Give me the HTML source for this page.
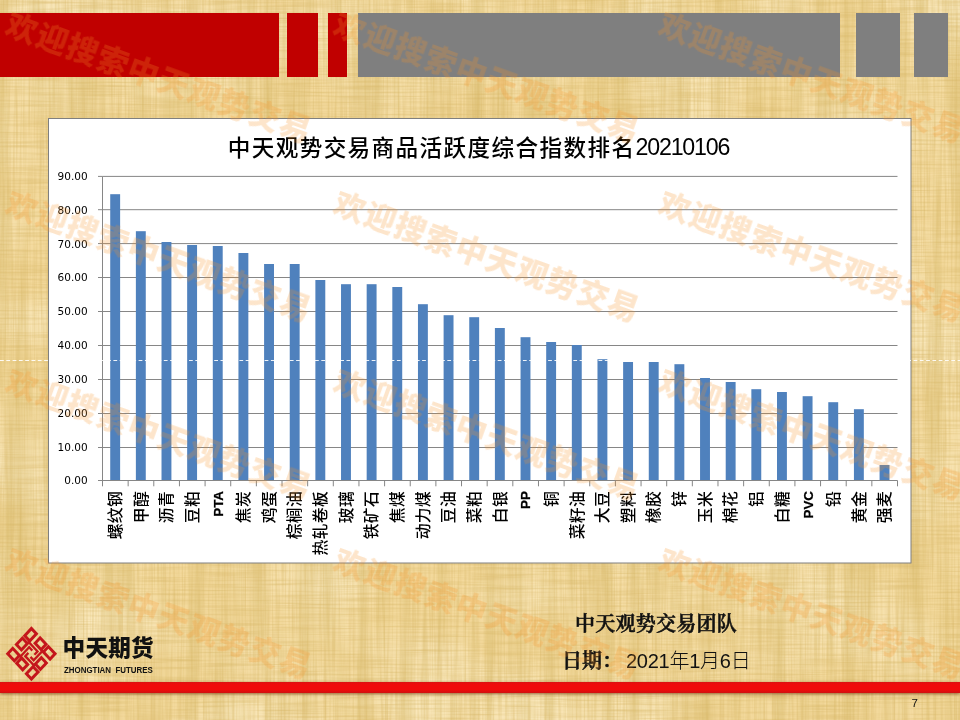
<!DOCTYPE html>
<html lang="zh-CN">
<head>
<meta charset="utf-8">
<title>中天观势交易商品活跃度综合指数排名20210106</title>
<style>
html,body{margin:0;padding:0}
body{width:960px;height:720px;position:relative;overflow:hidden;background:#f3d99c;font-family:"Liberation Sans","Noto Sans CJK SC",sans-serif}
.abs{position:absolute}
.tex{position:absolute;left:0;top:0;width:960px;height:720px}
.red{position:absolute;top:13px;height:64px;background:#c00000}
.gray{position:absolute;top:13px;height:64px;background:#7f7f7f}
.chart{position:absolute;left:0;top:0}
.yl{font-family:"DejaVu Sans","Liberation Sans",sans-serif;font-size:10.5px;fill:#000}
.cl{font-family:"Liberation Sans","Noto Sans CJK SC",sans-serif;font-size:15.8px;letter-spacing:.3px;font-weight:500;fill:#000}
.cle{font-family:"Liberation Sans",sans-serif;font-size:13.4px;font-weight:bold;fill:#000;stroke:#000;stroke-width:.25px}
.ttl{font-family:"Liberation Sans","Noto Sans CJK SC",sans-serif;font-size:22.6px;letter-spacing:1.4px;font-weight:500;fill:#000}
.dg{letter-spacing:-1.2px;font-size:23.2px}
.stripe{position:absolute;left:0;top:682px;width:960px;height:11px;background:linear-gradient(#dc1212,#f00b0b 25%,#f00b0b 70%,#d01010);box-shadow:0 1px 3px rgba(110,50,10,.7)}
.wm{position:absolute;white-space:nowrap;font-family:"Liberation Sans","Noto Sans CJK SC",sans-serif;font-weight:900;font-size:31px;line-height:32px;height:32px;color:rgba(246,146,36,.24);transform-origin:15.5px 16px;transform:rotate(19.9deg);letter-spacing:1.3px;filter:blur(.6px)}
.dash{position:absolute;left:0;top:360px;width:960px;height:0;border-top:1px dashed rgba(255,255,255,.85)}
.brand{position:absolute;left:62.6px;top:634.4px;font-family:"Liberation Sans","Noto Sans CJK SC",sans-serif;font-weight:900;font-size:22.6px;line-height:30px;color:#111;white-space:nowrap;letter-spacing:.2px}
.brand2{position:absolute;left:64px;top:663.6px;font-family:"Liberation Sans",sans-serif;font-weight:bold;font-size:9.6px;line-height:12px;color:#111;white-space:pre;transform-origin:0 0;transform:scaleX(.825)}
.team{position:absolute;left:575px;top:610.3px;letter-spacing:.25px;font-family:"Liberation Serif","Noto Serif CJK SC",serif;font-weight:600;-webkit-text-stroke:.55px #111;font-size:20px;line-height:28px;color:#111;white-space:nowrap}
.date{position:absolute;left:562px;top:646.5px;font-size:20px;line-height:28px;color:#111;white-space:nowrap}
.date b{font-family:"Liberation Serif","Noto Serif CJK SC",serif;font-weight:600;-webkit-text-stroke:.55px #111}
.date span{font-family:"Liberation Sans","Noto Sans CJK SC",sans-serif;font-weight:300;letter-spacing:-.25px;margin-left:4px}
.pn{position:absolute;left:911.5px;top:697px;font-size:11.5px;line-height:12px;color:#111}
</style>
</head>
<body>
<svg class="tex" width="960" height="720">
<defs>
<filter id="fh" x="0" y="0" width="100%" height="100%"><feTurbulence type="fractalNoise" baseFrequency="0.015 0.5" numOctaves="2" seed="3"/><feColorMatrix type="matrix" values="0 0 0 0 0.66  0 0 0 0 0.45  0 0 0 0 0.12  0.9 0 0 0 -0.35"/></filter>
<filter id="fv" x="0" y="0" width="100%" height="100%"><feTurbulence type="fractalNoise" baseFrequency="0.45 0.012" numOctaves="2" seed="8"/><feColorMatrix type="matrix" values="0 0 0 0 0.66  0 0 0 0 0.45  0 0 0 0 0.12  0.9 0 0 0 -0.35"/></filter>
<filter id="fl" x="0" y="0" width="100%" height="100%"><feTurbulence type="fractalNoise" baseFrequency="0.008 0.012" numOctaves="2" seed="5"/><feColorMatrix type="matrix" values="0 0 0 0 1  0 0 0 0 0.92  0 0 0 0 0.7  1.2 0 0 0 -0.45"/></filter>
<filter id="fb" x="0" y="0" width="100%" height="100%"><feTurbulence type="fractalNoise" baseFrequency="0.07 0.003" numOctaves="2" seed="11"/><feColorMatrix type="matrix" values="0 0 0 0 0.6  0 0 0 0 0.42  0 0 0 0 0.1  0.9 0 0 0 -0.36"/></filter>
</defs>
<rect width="960" height="720" fill="#f3d99c"/>
<rect width="960" height="720" filter="url(#fl)"/>
<rect width="960" height="720" filter="url(#fb)"/>
<rect width="960" height="720" filter="url(#fh)"/>
<rect width="960" height="720" filter="url(#fv)"/>
</svg>
<div class="red" style="left:0;width:279px"></div>
<div class="red" style="left:287px;width:31px"></div>
<div class="red" style="left:328px;width:19px"></div>
<div class="gray" style="left:358px;width:482px"></div>
<div class="gray" style="left:856px;width:44px"></div>
<div class="gray" style="left:914px;width:34px"></div>
<svg class="chart" width="960" height="720" viewBox="0 0 960 720">
<rect x="48.5" y="118.5" width="862.5" height="444.5" fill="#fff" stroke="#7f7f7f" stroke-width="1"/>
<line x1="102.5" x2="897.5" y1="447.50" y2="447.50" stroke="#868686" stroke-width="1"/>
<line x1="102.5" x2="897.5" y1="413.50" y2="413.50" stroke="#868686" stroke-width="1"/>
<line x1="102.5" x2="897.5" y1="379.50" y2="379.50" stroke="#868686" stroke-width="1"/>
<line x1="102.5" x2="897.5" y1="345.50" y2="345.50" stroke="#868686" stroke-width="1"/>
<line x1="102.5" x2="897.5" y1="311.50" y2="311.50" stroke="#868686" stroke-width="1"/>
<line x1="102.5" x2="897.5" y1="277.50" y2="277.50" stroke="#868686" stroke-width="1"/>
<line x1="102.5" x2="897.5" y1="243.60" y2="243.60" stroke="#868686" stroke-width="1"/>
<line x1="102.5" x2="897.5" y1="209.70" y2="209.70" stroke="#868686" stroke-width="1"/>
<line x1="102.5" x2="897.5" y1="176.40" y2="176.40" stroke="#868686" stroke-width="1"/>
<rect x="110.22" y="194.2" width="9.9" height="285.8" fill="#4f81bd"/>
<rect x="135.87" y="231.2" width="9.9" height="248.8" fill="#4f81bd"/>
<rect x="161.51" y="242.0" width="9.9" height="238.0" fill="#4f81bd"/>
<rect x="187.16" y="245.0" width="9.9" height="235.0" fill="#4f81bd"/>
<rect x="212.80" y="246.0" width="9.9" height="234.0" fill="#4f81bd"/>
<rect x="238.45" y="253.0" width="9.9" height="227.0" fill="#4f81bd"/>
<rect x="264.09" y="264.0" width="9.9" height="216.0" fill="#4f81bd"/>
<rect x="289.74" y="264.0" width="9.9" height="216.0" fill="#4f81bd"/>
<rect x="315.38" y="280.0" width="9.9" height="200.0" fill="#4f81bd"/>
<rect x="341.03" y="284.2" width="9.9" height="195.8" fill="#4f81bd"/>
<rect x="366.67" y="284.2" width="9.9" height="195.8" fill="#4f81bd"/>
<rect x="392.32" y="287.0" width="9.9" height="193.0" fill="#4f81bd"/>
<rect x="417.96" y="304.2" width="9.9" height="175.8" fill="#4f81bd"/>
<rect x="443.61" y="315.2" width="9.9" height="164.8" fill="#4f81bd"/>
<rect x="469.25" y="317.2" width="9.9" height="162.8" fill="#4f81bd"/>
<rect x="494.90" y="328.0" width="9.9" height="152.0" fill="#4f81bd"/>
<rect x="520.55" y="337.2" width="9.9" height="142.8" fill="#4f81bd"/>
<rect x="546.19" y="342.0" width="9.9" height="138.0" fill="#4f81bd"/>
<rect x="571.84" y="345.0" width="9.9" height="135.0" fill="#4f81bd"/>
<rect x="597.48" y="359.2" width="9.9" height="120.8" fill="#4f81bd"/>
<rect x="623.13" y="362.0" width="9.9" height="118.0" fill="#4f81bd"/>
<rect x="648.77" y="362.0" width="9.9" height="118.0" fill="#4f81bd"/>
<rect x="674.42" y="364.2" width="9.9" height="115.8" fill="#4f81bd"/>
<rect x="700.06" y="378.0" width="9.9" height="102.0" fill="#4f81bd"/>
<rect x="725.71" y="382.0" width="9.9" height="98.0" fill="#4f81bd"/>
<rect x="751.35" y="389.2" width="9.9" height="90.8" fill="#4f81bd"/>
<rect x="777.00" y="392.0" width="9.9" height="88.0" fill="#4f81bd"/>
<rect x="802.64" y="396.2" width="9.9" height="83.8" fill="#4f81bd"/>
<rect x="828.29" y="402.2" width="9.9" height="77.8" fill="#4f81bd"/>
<rect x="853.93" y="409.2" width="9.9" height="70.8" fill="#4f81bd"/>
<rect x="879.58" y="465.0" width="9.9" height="15.0" fill="#4f81bd"/>
<line x1="102.5" x2="102.5" y1="176.4" y2="486.3" stroke="#868686" stroke-width="1"/>
<line x1="98.0" x2="897.5" y1="480.5" y2="480.5" stroke="#868686" stroke-width="1"/>
<line x1="98.0" x2="102.5" y1="447.50" y2="447.50" stroke="#868686" stroke-width="1"/>
<line x1="98.0" x2="102.5" y1="413.50" y2="413.50" stroke="#868686" stroke-width="1"/>
<line x1="98.0" x2="102.5" y1="379.50" y2="379.50" stroke="#868686" stroke-width="1"/>
<line x1="98.0" x2="102.5" y1="345.50" y2="345.50" stroke="#868686" stroke-width="1"/>
<line x1="98.0" x2="102.5" y1="311.50" y2="311.50" stroke="#868686" stroke-width="1"/>
<line x1="98.0" x2="102.5" y1="277.50" y2="277.50" stroke="#868686" stroke-width="1"/>
<line x1="98.0" x2="102.5" y1="243.60" y2="243.60" stroke="#868686" stroke-width="1"/>
<line x1="98.0" x2="102.5" y1="209.70" y2="209.70" stroke="#868686" stroke-width="1"/>
<line x1="98.0" x2="102.5" y1="176.40" y2="176.40" stroke="#868686" stroke-width="1"/>
<line x1="128.15" x2="128.15" y1="480.5" y2="486.3" stroke="#868686" stroke-width="1"/>
<line x1="153.79" x2="153.79" y1="480.5" y2="486.3" stroke="#868686" stroke-width="1"/>
<line x1="179.44" x2="179.44" y1="480.5" y2="486.3" stroke="#868686" stroke-width="1"/>
<line x1="205.08" x2="205.08" y1="480.5" y2="486.3" stroke="#868686" stroke-width="1"/>
<line x1="230.73" x2="230.73" y1="480.5" y2="486.3" stroke="#868686" stroke-width="1"/>
<line x1="256.37" x2="256.37" y1="480.5" y2="486.3" stroke="#868686" stroke-width="1"/>
<line x1="282.02" x2="282.02" y1="480.5" y2="486.3" stroke="#868686" stroke-width="1"/>
<line x1="307.66" x2="307.66" y1="480.5" y2="486.3" stroke="#868686" stroke-width="1"/>
<line x1="333.31" x2="333.31" y1="480.5" y2="486.3" stroke="#868686" stroke-width="1"/>
<line x1="358.95" x2="358.95" y1="480.5" y2="486.3" stroke="#868686" stroke-width="1"/>
<line x1="384.60" x2="384.60" y1="480.5" y2="486.3" stroke="#868686" stroke-width="1"/>
<line x1="410.24" x2="410.24" y1="480.5" y2="486.3" stroke="#868686" stroke-width="1"/>
<line x1="435.89" x2="435.89" y1="480.5" y2="486.3" stroke="#868686" stroke-width="1"/>
<line x1="461.53" x2="461.53" y1="480.5" y2="486.3" stroke="#868686" stroke-width="1"/>
<line x1="487.18" x2="487.18" y1="480.5" y2="486.3" stroke="#868686" stroke-width="1"/>
<line x1="512.82" x2="512.82" y1="480.5" y2="486.3" stroke="#868686" stroke-width="1"/>
<line x1="538.47" x2="538.47" y1="480.5" y2="486.3" stroke="#868686" stroke-width="1"/>
<line x1="564.11" x2="564.11" y1="480.5" y2="486.3" stroke="#868686" stroke-width="1"/>
<line x1="589.76" x2="589.76" y1="480.5" y2="486.3" stroke="#868686" stroke-width="1"/>
<line x1="615.40" x2="615.40" y1="480.5" y2="486.3" stroke="#868686" stroke-width="1"/>
<line x1="641.05" x2="641.05" y1="480.5" y2="486.3" stroke="#868686" stroke-width="1"/>
<line x1="666.69" x2="666.69" y1="480.5" y2="486.3" stroke="#868686" stroke-width="1"/>
<line x1="692.34" x2="692.34" y1="480.5" y2="486.3" stroke="#868686" stroke-width="1"/>
<line x1="717.98" x2="717.98" y1="480.5" y2="486.3" stroke="#868686" stroke-width="1"/>
<line x1="743.63" x2="743.63" y1="480.5" y2="486.3" stroke="#868686" stroke-width="1"/>
<line x1="769.27" x2="769.27" y1="480.5" y2="486.3" stroke="#868686" stroke-width="1"/>
<line x1="794.92" x2="794.92" y1="480.5" y2="486.3" stroke="#868686" stroke-width="1"/>
<line x1="820.56" x2="820.56" y1="480.5" y2="486.3" stroke="#868686" stroke-width="1"/>
<line x1="846.21" x2="846.21" y1="480.5" y2="486.3" stroke="#868686" stroke-width="1"/>
<line x1="871.85" x2="871.85" y1="480.5" y2="486.3" stroke="#868686" stroke-width="1"/>
<line x1="897.50" x2="897.50" y1="480.5" y2="486.3" stroke="#868686" stroke-width="1"/>
<text class="yl" x="87.6" y="484.40" text-anchor="end">0.00</text>
<text class="yl" x="87.6" y="451.40" text-anchor="end">10.00</text>
<text class="yl" x="87.6" y="417.40" text-anchor="end">20.00</text>
<text class="yl" x="87.6" y="383.40" text-anchor="end">30.00</text>
<text class="yl" x="87.6" y="349.40" text-anchor="end">40.00</text>
<text class="yl" x="87.6" y="315.40" text-anchor="end">50.00</text>
<text class="yl" x="87.6" y="281.40" text-anchor="end">60.00</text>
<text class="yl" x="87.6" y="247.50" text-anchor="end">70.00</text>
<text class="yl" x="87.6" y="213.60" text-anchor="end">80.00</text>
<text class="yl" x="87.6" y="180.30" text-anchor="end">90.00</text>
<text class="cl" transform="translate(120.92 491) rotate(-90)" text-anchor="end">螺纹钢</text>
<text class="cl" transform="translate(146.57 491) rotate(-90)" text-anchor="end">甲醇</text>
<text class="cl" transform="translate(172.21 491) rotate(-90)" text-anchor="end">沥青</text>
<text class="cl" transform="translate(197.86 491) rotate(-90)" text-anchor="end">豆粕</text>
<text class="cle" transform="translate(222.70 491) rotate(-90)" text-anchor="end">PTA</text>
<text class="cl" transform="translate(249.15 491) rotate(-90)" text-anchor="end">焦炭</text>
<text class="cl" transform="translate(274.79 491) rotate(-90)" text-anchor="end">鸡蛋</text>
<text class="cl" transform="translate(300.44 491) rotate(-90)" text-anchor="end">棕榈油</text>
<text class="cl" transform="translate(326.08 491) rotate(-90)" text-anchor="end">热轧卷板</text>
<text class="cl" transform="translate(351.73 491) rotate(-90)" text-anchor="end">玻璃</text>
<text class="cl" transform="translate(377.37 491) rotate(-90)" text-anchor="end">铁矿石</text>
<text class="cl" transform="translate(403.02 491) rotate(-90)" text-anchor="end">焦煤</text>
<text class="cl" transform="translate(428.66 491) rotate(-90)" text-anchor="end">动力煤</text>
<text class="cl" transform="translate(454.31 491) rotate(-90)" text-anchor="end">豆油</text>
<text class="cl" transform="translate(479.95 491) rotate(-90)" text-anchor="end">菜粕</text>
<text class="cl" transform="translate(505.60 491) rotate(-90)" text-anchor="end">白银</text>
<text class="cle" transform="translate(530.45 491) rotate(-90)" text-anchor="end">PP</text>
<text class="cl" transform="translate(556.89 491) rotate(-90)" text-anchor="end">铜</text>
<text class="cl" transform="translate(582.54 491) rotate(-90)" text-anchor="end">菜籽油</text>
<text class="cl" transform="translate(608.18 491) rotate(-90)" text-anchor="end">大豆</text>
<text class="cl" transform="translate(633.83 491) rotate(-90)" text-anchor="end">塑料</text>
<text class="cl" transform="translate(659.47 491) rotate(-90)" text-anchor="end">橡胶</text>
<text class="cl" transform="translate(685.12 491) rotate(-90)" text-anchor="end">锌</text>
<text class="cl" transform="translate(710.76 491) rotate(-90)" text-anchor="end">玉米</text>
<text class="cl" transform="translate(736.41 491) rotate(-90)" text-anchor="end">棉花</text>
<text class="cl" transform="translate(762.05 491) rotate(-90)" text-anchor="end">铝</text>
<text class="cl" transform="translate(787.70 491) rotate(-90)" text-anchor="end">白糖</text>
<text class="cle" transform="translate(812.54 491) rotate(-90)" text-anchor="end">PVC</text>
<text class="cl" transform="translate(838.99 491) rotate(-90)" text-anchor="end">铅</text>
<text class="cl" transform="translate(864.63 491) rotate(-90)" text-anchor="end">黄金</text>
<text class="cl" transform="translate(890.28 491) rotate(-90)" text-anchor="end">强麦</text>
<text class="ttl" x="478.4" y="155.6" text-anchor="middle">中天观势交易商品活跃度综合指数排名<tspan class="dg" dy="-1.1">20210106</tspan></text>
</svg>
<div class="stripe"></div>
<svg class="abs" style="left:2px;top:622px" width="60" height="64" viewBox="0 0 60 64">
<g transform="translate(29.4 4.3) scale(.985 1.05) rotate(45)" fill="none" stroke="#c4161c" stroke-width="2.9">
<rect x="1.5" y="1.5" width="7.2" height="9.6"/>
<rect x="1.5" y="14.4" width="7.2" height="8.6"/>
<rect x="1.5" y="28.3" width="9.6" height="7.2"/>
<rect x="14.4" y="28.3" width="8.6" height="7.2"/>
<rect x="28.3" y="25.9" width="7.2" height="9.6"/>
<rect x="28.3" y="14" width="7.2" height="8.6"/>
<rect x="25.9" y="1.5" width="9.6" height="7.2"/>
<rect x="14" y="1.5" width="8.6" height="7.2"/>
<path d="M7.5 12.5H21.3V17M24.5 7.5V21.3H20M29.5 24.5H15.7V20M12.5 29.5V15.7H17" stroke-width="2.3"/>
</g>
</svg>
<div class="brand">中天期货</div>
<div class="brand2">ZHONGTIAN  FUTURES</div>
<div class="team">中天观势交易团队</div>
<div class="date"><b>日期：</b><span>2021年1月6日</span></div>
<div class="pn">7</div>
<svg class="abs" style="left:0;top:358px" width="960" height="5"><line x1="0" x2="960" y1="2.5" y2="2.5" stroke="#fff" stroke-opacity=".9" stroke-width="1" stroke-dasharray="3.8 2.5"/></svg>
<div class="wm" style="left:5.5px;top:13.0px">欢迎搜索中天观势交易</div>
<div class="wm" style="left:333.5px;top:13.0px">欢迎搜索中天观势交易</div>
<div class="wm" style="left:658.5px;top:13.0px">欢迎搜索中天观势交易</div>
<div class="wm" style="left:5.5px;top:191.5px">欢迎搜索中天观势交易</div>
<div class="wm" style="left:333.5px;top:191.5px">欢迎搜索中天观势交易</div>
<div class="wm" style="left:658.5px;top:191.5px">欢迎搜索中天观势交易</div>
<div class="wm" style="left:5.5px;top:370.0px">欢迎搜索中天观势交易</div>
<div class="wm" style="left:333.5px;top:370.0px">欢迎搜索中天观势交易</div>
<div class="wm" style="left:658.5px;top:370.0px">欢迎搜索中天观势交易</div>
<div class="wm" style="left:5.5px;top:548.5px">欢迎搜索中天观势交易</div>
<div class="wm" style="left:333.5px;top:548.5px">欢迎搜索中天观势交易</div>
<div class="wm" style="left:658.5px;top:548.5px">欢迎搜索中天观势交易</div>
</body>
</html>
